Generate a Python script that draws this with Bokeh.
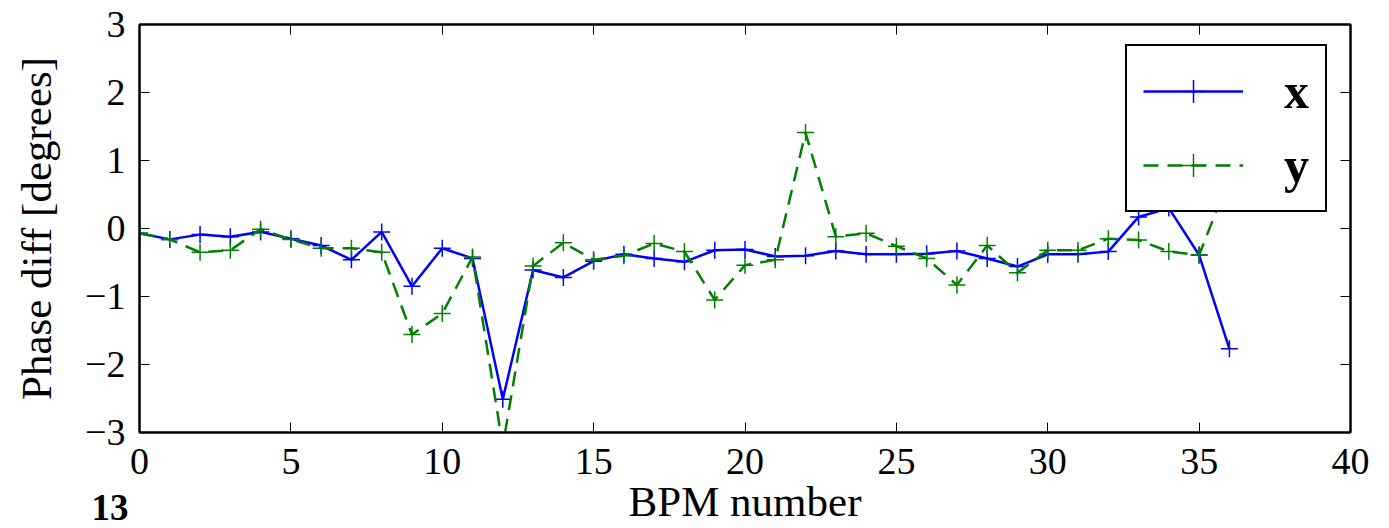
from bokeh.plotting import figure
from bokeh.models import (Range1d, LinearAxis, Legend, LegendItem,
                          CustomJSTickFormatter, FixedTicker, Label)
from bokeh.embed import file_html
from bokeh.resources import INLINE

# ---- data ----
bpm = [0, 1, 2, 3, 4, 5, 6, 7, 8, 9, 10, 11, 12, 13, 14, 15, 16, 17, 18,
       19, 20, 21, 22, 23, 24, 25, 26, 27, 28, 29, 30, 31, 32, 33, 34, 35, 36]
phase_x = [-0.07, -0.16, -0.09, -0.12, -0.05, -0.15, -0.25, -0.46, -0.05, -0.85,
           -0.29, -0.44, -2.51, -0.61, -0.72, -0.48, -0.38, -0.44, -0.49, -0.32,
           -0.31, -0.41, -0.40, -0.33, -0.38, -0.38, -0.37, -0.33, -0.44, -0.56,
           -0.38, -0.38, -0.34, 0.17, 0.30, -0.39, -1.77]
phase_y = [-0.07, -0.16, -0.35, -0.32, -0.01, -0.16, -0.29, -0.29, -0.35, -1.56,
           -1.25, -0.42, -3.20, -0.55, -0.21, -0.46, -0.40, -0.22, -0.34, -1.05,
           -0.54, -0.46, 1.41, -0.12, -0.07, -0.26, -0.44, -0.83, -0.25, -0.65,
           -0.32, -0.32, -0.15, -0.17, -0.34, -0.39, 0.75]
x_ticks = [0, 5, 10, 15, 20, 25, 30, 35, 40]
y_ticks = [-3, -2, -1, 0, 1, 2, 3]
series_labels = ["x", "y"]
x_title = "BPM number"
y_title = "Phase diff [degrees]"
page_number = "13"

FONT = "Liberation Serif"
FS = "38px"
LFS = "43px"

p = figure(width=1389, height=528, output_backend="svg", toolbar_location=None,
           x_range=Range1d(0, 40), y_range=Range1d(-3, 3),
           min_border_left=139, min_border_right=39, min_border_top=24,
           min_border_bottom=96)
p.background_fill_color = "white"
p.border_fill_color = "white"
p.outline_line_color = "black"
p.outline_line_width = 2
p.grid.visible = False

fmt = CustomJSTickFormatter(code="return tick < 0 ? '\\u2212' + (-tick) : String(tick);")
blank_fmt = CustomJSTickFormatter(code="return '';")


def style_axis(ax, ticks, show):
    ax.ticker = FixedTicker(ticks=ticks)
    ax.major_tick_in = 10
    ax.major_tick_out = 0
    ax.minor_tick_in = 0
    ax.minor_tick_out = 0
    ax.major_tick_line_color = "black"
    ax.major_tick_line_width = 1
    ax.axis_line_color = "black"
    ax.axis_line_width = 2
    ax.major_label_text_font = FONT
    ax.major_label_text_font_size = FS
    ax.major_label_text_color = "black"
    if show:
        ax.formatter = fmt
        ax.axis_label_text_font = FONT
        ax.axis_label_text_font_size = LFS
        ax.axis_label_text_font_style = "normal"
        ax.axis_label_text_color = "black"
    else:
        ax.formatter = blank_fmt
        ax.major_label_standoff = 0


xa = p.xaxis[0]
ya = p.yaxis[0]
style_axis(xa, x_ticks, True)
style_axis(ya, y_ticks, True)
xa.axis_label = x_title
ya.axis_label = y_title
xa.major_label_standoff = 16
xa.axis_label_standoff = 1
ya.major_label_standoff = 14
ya.axis_label_standoff = 22

top_ax = LinearAxis()
style_axis(top_ax, x_ticks, False)
p.add_layout(top_ax, "above")
right_ax = LinearAxis()
style_axis(right_ax, y_ticks, False)
p.add_layout(right_ax, "right")

lx = p.line(bpm, phase_x, line_color="#0000ff", line_width=2.5)
sx = p.scatter(bpm, phase_x, marker="cross", size=17, line_color="#0000ff",
               line_width=1.5)
ly = p.line(bpm, phase_y, line_color="#008000", line_width=2.5, line_dash="15 9")
sy = p.scatter(bpm, phase_y, marker="cross", size=17, line_color="#008000",
               line_width=1.5)

legend = Legend(items=[LegendItem(label=series_labels[0], renderers=[lx, sx]),
                       LegendItem(label=series_labels[1], renderers=[ly, sy])],
                location=(986, 220), orientation="vertical")
legend.label_text_font = FONT
legend.label_text_font_style = "bold"
legend.label_text_font_size = "50px"
legend.label_text_color = "black"
legend.glyph_width = 100
legend.glyph_height = 58
legend.label_height = 58
legend.label_standoff = 41
legend.padding = 16
legend.spacing = 16
legend.margin = 0
legend.border_line_color = "black"
legend.border_line_alpha = 1.0
legend.border_line_width = 2
legend.background_fill_color = "white"
legend.background_fill_alpha = 1.0
p.add_layout(legend)

# page number, placed in a side panel so that it is not clipped to the frame
pg = Label(x=-1259, y=-62, x_units="screen", y_units="screen", text=page_number,
           text_font="Liberation Sans Narrow", text_font_style="bold",
           text_font_size="37px", text_baseline="top", text_color="black")
p.add_layout(pg, "right")

open("out.html", "w").write(file_html(p, INLINE))
